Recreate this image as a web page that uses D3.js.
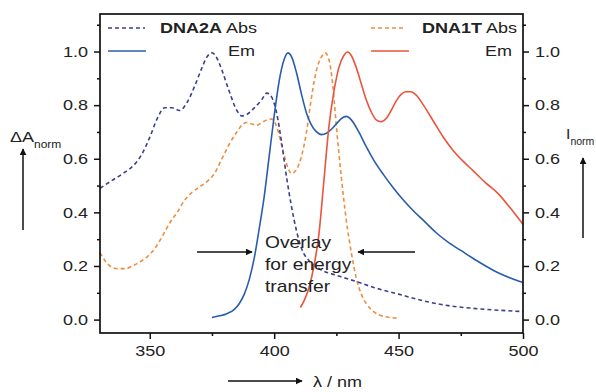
<!DOCTYPE html>
<html>
<head>
<meta charset="utf-8">
<script src="https://cdn.jsdelivr.net/npm/d3@7"></script>
<style>
  body { margin: 0; background: #fff; }
  svg { font-family: "Liberation Sans", Arial, sans-serif; }
</style>
</head>
<body>
<script>
// DNA2A absorption (dashed navy)
const dna2aAbsWl = [330, 335, 340, 344, 347, 350, 353, 356, 359, 362, 365, 368, 371, 373, 375, 377, 379, 382, 385, 387, 389, 392, 395, 397, 399, 401, 403, 405, 407, 409, 411, 414, 418, 425, 432, 440, 450, 460, 470, 480, 490, 500];
const dna2aAbsVal = [0.49, 0.52, 0.55, 0.58, 0.62, 0.68, 0.75, 0.79, 0.79, 0.78, 0.81, 0.87, 0.94, 0.98, 0.995, 0.975, 0.93, 0.85, 0.78, 0.76, 0.765, 0.79, 0.82, 0.845, 0.83, 0.77, 0.66, 0.53, 0.42, 0.33, 0.265, 0.22, 0.19, 0.165, 0.145, 0.12, 0.095, 0.07, 0.052, 0.042, 0.035, 0.03];

// DNA2A emission (solid blue)
const dna2aEmWl = [375, 378, 381, 384, 386, 388, 390, 392, 394, 396, 398, 400, 402, 404, 405.5, 407, 409, 411, 413, 415, 417, 419, 421, 423, 425, 427, 429, 431, 434, 437, 440, 444, 448, 452, 456, 460, 465, 470, 475, 480, 485, 490, 495, 500];
const dna2aEmVal = [0.008, 0.014, 0.022, 0.038, 0.06, 0.095, 0.15, 0.23, 0.34, 0.46, 0.61, 0.76, 0.89, 0.97, 0.995, 0.98, 0.92, 0.84, 0.77, 0.725, 0.7, 0.69, 0.695, 0.71, 0.73, 0.75, 0.758, 0.745, 0.7, 0.645, 0.595, 0.54, 0.49, 0.445, 0.405, 0.37, 0.325, 0.288, 0.258, 0.228, 0.2, 0.175, 0.155, 0.138];

// DNA1T absorption (dashed orange)
const dna1tAbsWl = [330, 332, 334, 337, 340, 343, 346, 349, 352, 355, 358, 361, 364, 367, 370, 373, 376, 379, 382, 385, 387, 389, 391, 393, 395, 397, 399, 401, 403, 405, 407, 409, 411, 413, 415, 417, 419, 420.5, 422, 423.5, 425, 427, 429, 431, 433, 435, 437, 440, 444, 450];
const dna1tAbsVal = [0.25, 0.22, 0.2, 0.19, 0.19, 0.2, 0.215, 0.235, 0.265, 0.31, 0.36, 0.4, 0.445, 0.475, 0.495, 0.515, 0.545, 0.6, 0.655, 0.7, 0.725, 0.735, 0.73, 0.725, 0.735, 0.745, 0.748, 0.72, 0.65, 0.58, 0.545, 0.56, 0.61, 0.7, 0.83, 0.93, 0.98, 0.995, 0.97, 0.88, 0.72, 0.53, 0.37, 0.25, 0.155, 0.095, 0.06, 0.03, 0.012, 0.005];

// DNA1T emission (solid red)
const dna1tEmWl = [410.5, 412, 414, 416, 418, 420, 422, 424, 426, 428, 429.5, 431, 433, 435, 437, 439, 441, 443, 445, 447, 449, 451, 453, 455, 457, 460, 464, 468, 472, 476, 480, 485, 490, 495, 500];
const dna1tEmVal = [0.045, 0.07, 0.12, 0.2, 0.32, 0.52, 0.72, 0.85, 0.94, 0.985, 0.998, 0.985, 0.94, 0.88, 0.82, 0.775, 0.745, 0.738, 0.75, 0.78, 0.815, 0.84, 0.85, 0.85, 0.838, 0.8, 0.74, 0.68, 0.63, 0.59, 0.555, 0.51, 0.47, 0.415, 0.355];

const xTicks = [350, 400, 450, 500];
const xMinor = [375, 425, 475];
const yTicks = [0, 0.2, 0.4, 0.6, 0.8, 1.0];
const yMinor = [0.1, 0.3, 0.5, 0.7, 0.9, 1.1];

const W = 596, H = 392;
const stretch = 'scale(1.2,1)';

const svg = d3.select('body').append('svg')
  .attr('width', W).attr('height', H);

const x = d3.scaleLinear().domain([330, 500]).range([100, 523]);
const y = d3.scaleLinear().domain([-0.05, 1.14]).range([333, 14]);

// axes
function styleAxis(g) {
  g.select('.domain').remove();
  g.selectAll('line').attr('stroke', '#111').attr('stroke-width', 1.5);
  g.selectAll('text').attr('font-size', 15).attr('fill', '#222')
    .attr('transform', stretch);
}

svg.append('g').attr('transform', 'translate(100,0)')
  .call(d3.axisLeft(y).tickValues(yTicks).tickSize(6).tickPadding(4).tickFormat(d3.format('.1f')))
  .call(styleAxis);
svg.append('g').attr('transform', 'translate(100,0)')
  .call(d3.axisLeft(y).tickValues(yMinor).tickSize(3).tickFormat(''))
  .call(styleAxis);
svg.append('g').attr('transform', 'translate(523,0)')
  .call(d3.axisRight(y).tickValues(yTicks).tickSize(6).tickPadding(4).tickFormat(d3.format('.1f')))
  .call(styleAxis);
svg.append('g').attr('transform', 'translate(523,0)')
  .call(d3.axisRight(y).tickValues(yMinor).tickSize(3).tickFormat(''))
  .call(styleAxis);
svg.append('g').attr('transform', 'translate(0,333)')
  .call(d3.axisBottom(x).tickValues(xTicks).tickSize(6).tickPadding(6).tickFormat(d3.format('d')))
  .call(styleAxis);
svg.append('g').attr('transform', 'translate(0,333)')
  .call(d3.axisBottom(x).tickValues(xMinor).tickSize(3).tickFormat(''))
  .call(styleAxis);

// curves
const line = d3.line()
  .x(d => x(d[0])).y(d => y(d[1]))
  .curve(d3.curveMonotoneX);

const series = [
  { wl: dna1tAbsWl, val: dna1tAbsVal, color: '#f08c3e', dash: '4,3' },
  { wl: dna2aAbsWl, val: dna2aAbsVal, color: '#3d3f8f', dash: '4,3' },
  { wl: dna2aEmWl, val: dna2aEmVal, color: '#2a5cae', dash: null },
  { wl: dna1tEmWl, val: dna1tEmVal, color: '#e9553a', dash: null },
];

const plot = svg.append('g');
series.forEach(s => {
  plot.append('path')
    .datum(s.wl.map((w, i) => [w, s.val[i]]))
    .attr('d', line)
    .attr('fill', 'none')
    .attr('stroke', s.color)
    .attr('stroke-width', 1.6)
    .attr('stroke-dasharray', s.dash);
});

// frame
svg.append('rect')
  .attr('x', 100).attr('y', 14).attr('width', 423).attr('height', 319)
  .attr('fill', 'none').attr('stroke', '#111').attr('stroke-width', 1.7);

// arrow marker
svg.append('defs').append('marker')
  .attr('id', 'arr').attr('viewBox', '0 0 10 10')
  .attr('refX', 9).attr('refY', 5)
  .attr('markerWidth', 7).attr('markerHeight', 7)
  .attr('markerUnits', 'userSpaceOnUse')
  .attr('orient', 'auto')
  .append('path').attr('d', 'M0,0 L10,5 L0,10 z').attr('fill', '#111');

function arrow(x1, y1, x2, y2) {
  svg.append('line')
    .attr('x1', x1).attr('y1', y1).attr('x2', x2).attr('y2', y2)
    .attr('stroke', '#111').attr('stroke-width', 1.5)
    .attr('marker-end', 'url(#arr)');
}

function label(px, py, size, anchor, sx) {
  return svg.append('text')
    .attr('transform', `translate(${px},${py}) scale(${sx || 1.2},1)`)
    .attr('font-size', size)
    .attr('fill', '#222')
    .attr('text-anchor', anchor || 'start');
}

// legend
svg.append('line').attr('x1', 108).attr('x2', 145).attr('y1', 28).attr('y2', 28)
  .attr('stroke', '#3d3f8f').attr('stroke-width', 1.6).attr('stroke-dasharray', '4,3');
svg.append('line').attr('x1', 108).attr('x2', 146).attr('y1', 51).attr('y2', 51)
  .attr('stroke', '#2a5cae').attr('stroke-width', 1.6);
const l1 = label(257, 33, 15, 'end');
l1.append('tspan').attr('font-weight', 'bold').text('DNA2A');
l1.append('tspan').text(' Abs');
label(255, 56, 15, 'end').text('Em');

svg.append('line').attr('x1', 371).attr('x2', 406).attr('y1', 28).attr('y2', 28)
  .attr('stroke', '#f08c3e').attr('stroke-width', 1.6).attr('stroke-dasharray', '4,3');
svg.append('line').attr('x1', 371).attr('x2', 409).attr('y1', 51).attr('y2', 51)
  .attr('stroke', '#e9553a').attr('stroke-width', 1.6);
const l2 = label(517, 33, 15, 'end');
l2.append('tspan').attr('font-weight', 'bold').text('DNA1T');
l2.append('tspan').text(' Abs');
label(512, 56, 15, 'end').text('Em');

// axis titles
const yl = label(10, 142, 15);
yl.append('tspan').text('\u0394A');
yl.append('tspan').attr('font-size', 10).attr('dy', 6).text('norm');
arrow(23, 230, 23, 149);

const yr = label(566, 139, 15, 'start', 1.05);
yr.append('tspan').text('I');
yr.append('tspan').attr('font-size', 10).attr('dy', 6).text('norm');
arrow(583, 238, 583, 158);

arrow(228, 381, 302, 381);
label(313, 387, 15).text('\u03bb / nm');

// annotation
label(265, 248, 16).text('Overlay');
label(265, 270, 16).text('for energy');
label(265, 292, 16).text('transfer');
arrow(197, 252, 252, 252);
arrow(415, 252, 358, 252);
</script>
</body>
</html>
